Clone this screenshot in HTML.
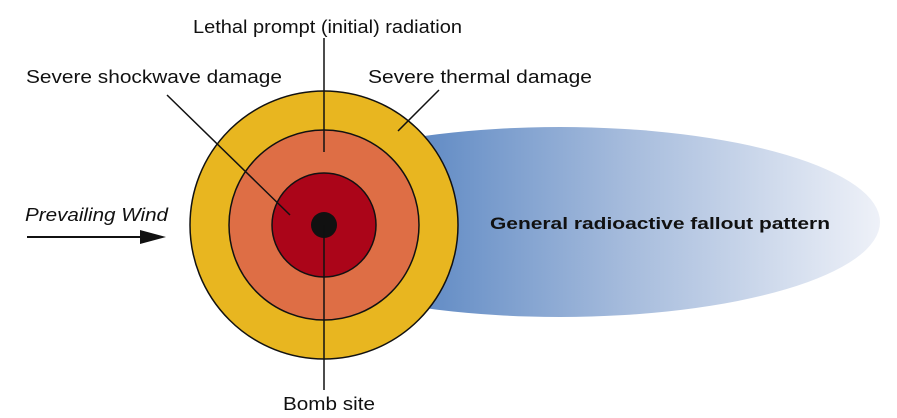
<!DOCTYPE html>
<html><head><meta charset="utf-8"><style>
html,body{margin:0;padding:0;background:#fff;}
svg{display:block;}
text{font-family:"Liberation Sans",Arial,sans-serif;fill:#111;}
</style></head><body>
<svg width="897" height="418" viewBox="0 0 897 418">
<defs>
<linearGradient id="g" x1="0" y1="0" x2="1" y2="0" gradientUnits="objectBoundingBox">
<stop offset="0.25" stop-color="#5a86c2"/>
<stop offset="0.6" stop-color="#a5bbdc"/>
<stop offset="1" stop-color="#eef1f8"/>
</linearGradient>
</defs>
<ellipse cx="560" cy="222" rx="320" ry="95" fill="url(#g)"/>
<circle cx="324" cy="225" r="134" fill="#e8b620" stroke="#111" stroke-width="1.5"/>
<circle cx="324" cy="225" r="95" fill="#de6e45" stroke="#111" stroke-width="1.5"/>
<circle cx="324" cy="225" r="52" fill="#ab0519" stroke="#111" stroke-width="1.5"/>
<circle cx="324" cy="225" r="13" fill="#111"/>
<line x1="324" y1="38" x2="324" y2="152" stroke="#111" stroke-width="1.5"/>
<line x1="324" y1="225" x2="324" y2="390" stroke="#111" stroke-width="1.5"/>
<line x1="167" y1="95" x2="290" y2="215" stroke="#111" stroke-width="1.5"/>
<line x1="439" y1="90" x2="398" y2="131" stroke="#111" stroke-width="1.5"/>
<line x1="27" y1="237" x2="145" y2="237" stroke="#111" stroke-width="2"/>
<polygon points="140,230 166,237 140,244" fill="#111"/>
<text x="193" y="33" font-size="18.5" textLength="269" lengthAdjust="spacingAndGlyphs">Lethal prompt (initial) radiation</text>
<text x="26" y="83" font-size="18.5" textLength="256" lengthAdjust="spacingAndGlyphs">Severe shockwave damage</text>
<text x="368" y="83" font-size="18.5" textLength="224" lengthAdjust="spacingAndGlyphs">Severe thermal damage</text>
<text x="25" y="221" font-size="18.5" font-style="italic" textLength="143" lengthAdjust="spacingAndGlyphs">Prevailing Wind</text>
<text x="283" y="410" font-size="18.5" textLength="92" lengthAdjust="spacingAndGlyphs">Bomb site</text>
<text x="490" y="229" font-size="17" font-weight="bold" textLength="340" lengthAdjust="spacingAndGlyphs">General radioactive fallout pattern</text>
</svg>
</body></html>
